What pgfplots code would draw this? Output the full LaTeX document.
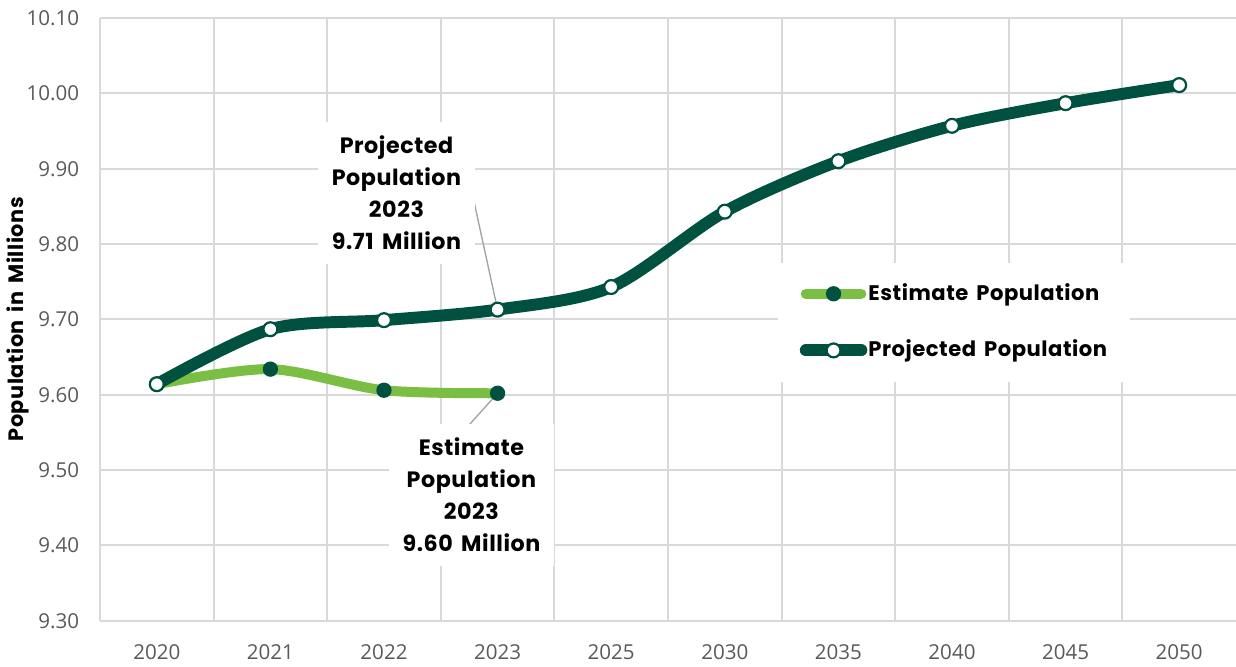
\documentclass[border=0pt]{standalone}
\usepackage{fontspec}
\usepackage{pgfplots}
\pgfplotsset{compat=1.18}
\setmainfont{Open Sans}
\newfontfamily\pop{Poppins}[LetterSpace=2.5, WordSpace=1.6]
\definecolor{dkgreen}{RGB}{0,81,64}
\definecolor{ltgreen}{RGB}{122,190,67}
\definecolor{gridgray}{RGB}{217,217,217}
\definecolor{tickgray}{RGB}{89,89,89}
\definecolor{leadgray}{RGB}{165,165,165}
\begin{document}
\begin{tikzpicture}
\begin{axis}[
  at={(0,0)}, anchor=south west,
  scale only axis, width=409pt, height=217pt,
  xmin=-0.5, xmax=9.5, ymin=9.3, ymax=10.1,
  xtick={0,...,9},
  xticklabels={2020,2021,2022,2023,2025,2030,2035,2040,2045,2050},
  minor xtick={0.5,1.5,2.5,3.5,4.5,5.5,6.5,7.5,8.5},
  ytick={9.3,9.4,9.5,9.6,9.7,9.8,9.9,10.0,10.1},
  ymajorgrids, xminorgrids,
  grid style={gridgray, line width=0.7pt},
  minor grid style={gridgray, line width=0.7pt},
  major tick length=0pt, minor tick length=0pt,
  axis x line*=bottom, axis y line*=left,
  axis line style={gridgray, line width=0.7pt, -},
  yticklabel style={xshift=-4pt, /pgf/number format/fixed, /pgf/number format/fixed zerofill, /pgf/number format/precision=2, /pgf/number format/assume math mode=true},
  xticklabel style={/pgf/number format/assume math mode=true, yshift=-5pt},
  tick label style={font=\fontsize{7.4}{8}\selectfont, text=tickgray},
  ylabel={Population in Millions},
  ylabel style={at={(axis description cs:-0.072,0.5)}, anchor=center, font=\pop\bfseries\fontsize{7.5}{8}\selectfont},
  legend style={at={(axis description cs:0.596,0.595)}, anchor=north west, draw=none, fill=white,
    inner xsep=8pt, inner ysep=7pt, row sep=12pt, font=\pop\bfseries\fontsize{7.6}{9}\selectfont,
    nodes={inner sep=0.4pt}},
  legend cell align=left,
  legend image code/.code={\draw[mark repeat=2,mark phase=2,#1] plot coordinates {(0pt,0pt) (10pt,0pt) (20pt,0pt)};},
]
% annotations
\draw[leadgray, line width=0.5pt] (axis cs:2.77,9.872) -- (axis cs:3,9.713);
\node[fill=white, align=center, font=\pop\bfseries\fontsize{8}{11.5}\selectfont, inner sep=5pt] at (axis cs:2.11,9.868) {Projected\\Population\\2023\\9.71 Million};
\draw[leadgray, line width=0.5pt] (axis cs:2.75,9.560) -- (axis cs:3,9.602);
\node[fill=white, align=center, font=\pop\bfseries\fontsize{8}{11.5}\selectfont, inner sep=5pt] at (axis cs:2.77,9.467) {Estimate\\Population\\2023\\9.60 Million};

\addplot[ltgreen, line width=3.6pt, line cap=round, smooth, mark=*,
  mark options={fill=dkgreen, draw=dkgreen, line width=0.5pt}, mark size=2.5pt]
  coordinates {(0,9.614) (1,9.634) (2,9.606) (3,9.602)};
\addlegendentry{Estimate Population}
\addplot[dkgreen, line width=4.3pt, line cap=round, smooth, mark=*,
  mark options={fill=white, draw=dkgreen, line width=0.8pt}, mark size=2.5pt]
  coordinates {(0,9.614) (1,9.687) (2,9.699) (3,9.713) (4,9.743) (5,9.843) (6,9.910) (7,9.957) (8,9.987) (9,10.011)};
\addlegendentry{Projected Population}
\end{axis}
\pgfresetboundingbox
\path (-36pt,-16.6pt) rectangle (409pt,223.5pt);
\end{tikzpicture}
\end{document}
